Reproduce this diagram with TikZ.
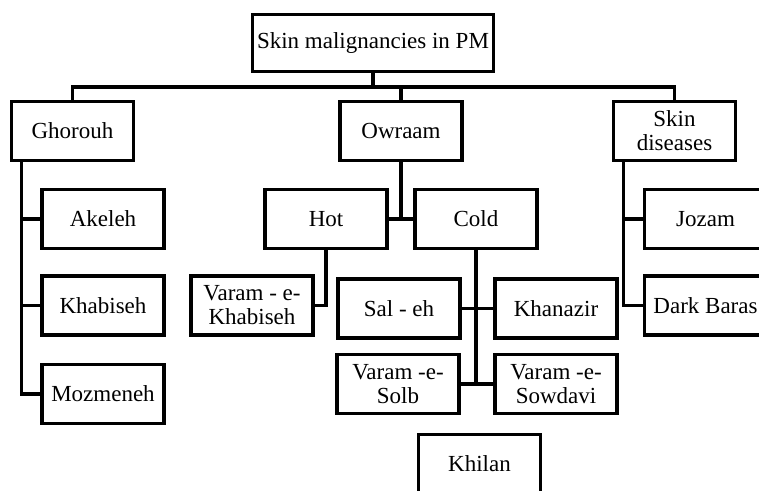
\documentclass[tikz,border=0pt]{standalone}
\usepackage{fontspec}
\setmainfont{Liberation Serif}
\usepackage{tikz}

\begin{document}
\begin{tikzpicture}[x=1pt,y=-1pt,line width=3.2pt,
        font=\fontsize{23}{24}\selectfont,
        every node/.style={draw,rectangle,align=center,inner sep=1pt,minimum width=122pt,minimum height=59pt}]

    \useasboundingbox (0,0) rectangle (759,490);
    \fill[white] (0,0) rectangle (759,490);
    \clip (0,0) rectangle (759,490);

    \node (root) at (373,43) [minimum width=241pt,minimum height=57pt] {Skin malignancies in PM};

    % first level
    \node (ghorouh) at (72.5,131) {Ghorouh};
    \node (owraam) at (401,131) {Owraam};
    \node (skin) at (674.5,131) {Skin\\diseases};

    % Ghorouh
    \node (akeleh) at (103,219) {Akeleh};
    \node (khabiseh) at (103,305.5) {Khabiseh};
    \node (mozmeneh) at (103,394) {Mozmeneh};

    % Owraam
    \node (hot) at (326,219) {Hot};
    \node (cold) at (476,219) {Cold};
    \node (vkhabiseh) at (252,305.5) {Varam - e-\\Khabiseh};
    \node (saleh) at (399,308.5) {Sal - eh};
    \node (khanazir) at (556,308.5) {Khanazir};
    \node (solb) at (398,384) {Varam -e-\\Solb};
    \node (sowdavi) at (556,384) {Varam -e-\\Sowdavi};
    \node (khilan) at (479.5,464) {Khilan};

    % Skin diseases
    \node (jozam) at (705.5,219) {Jozam};
    \node (baras) at (705.5,305.5) {Dark Baras};

    % connectors
    \coordinate (bus) at (373,87);
    \draw (root.south) -- (bus);
    \draw (ghorouh.north) |- (bus) -| (skin.north);
    \draw (bus) -| (owraam.north);

    \coordinate (gtrunk) at ([xshift=11.5pt]ghorouh.south west);
    \draw (gtrunk) |- (mozmeneh.west);
    \foreach \n in {akeleh,khabiseh}
        \draw (\n.west) -- (\n.west -| gtrunk);

    \draw (owraam.south) -- (owraam.south |- hot.east);
    \draw (hot.east) -- (cold.west);
    \draw (hot.south) |- (vkhabiseh.east);
    \draw (cold.south) -- (cold.south |- solb.east);
    \draw (saleh.east) -- (khanazir.west);
    \draw (solb.east) -- (sowdavi.west);

    \coordinate (strunk) at ([xshift=11.5pt]skin.south west);
    \draw (strunk) |- (baras.west);
    \draw (jozam.west) -- (jozam.west -| strunk);
\end{tikzpicture}
\end{document}
